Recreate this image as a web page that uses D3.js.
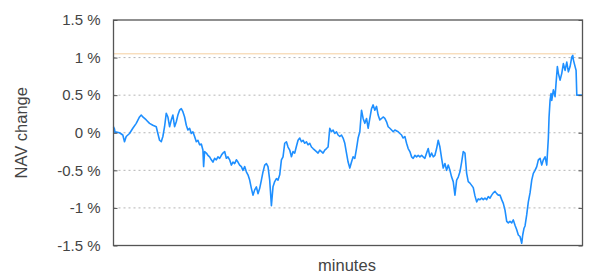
<!DOCTYPE html>
<html>
<head>
<meta charset="utf-8">
<script src="https://cdn.jsdelivr.net/npm/d3@7"></script>
<style>
  body { margin: 0; background: #fff; }
  svg text { font-family: "Liberation Sans", Arial, sans-serif; fill: #444; }
</style>
</head>
<body>
<div id="chart"></div>
<script>
// minutes since open, NAV change in percent
var minutes = [0, 1, 1.5, 2.7, 6, 9.3, 11, 12.7, 16, 19.3, 22.7, 26, 27.7, 29.3, 32.7, 36, 39.3, 42.7, 44.3, 46, 47.7, 49.3, 51, 52.7, 54.3, 56, 57.7, 59.3, 61, 62.7, 64.3, 66, 67.7, 69.3, 71, 72.7, 74.3, 76, 77.7, 79.3, 81, 82.7, 84.3, 86, 87.7, 89.3, 90, 91, 92.7, 94.3, 96, 97.7, 99.3, 101, 102.7, 104.3, 106, 107.7, 109.3, 111, 112.7, 114.3, 116, 117.7, 119.3, 121, 122.7, 124.3, 126, 127.7, 129.3, 131, 132.7, 134.3, 136, 137.7, 139.3, 141, 142.7, 144.3, 146, 147.7, 149.3, 151, 152.7, 154.3, 156, 157.7, 159.3, 161, 162.7, 164.3, 166, 167.7, 169.3, 171, 172.7, 174.3, 176, 177.7, 179.3, 181, 182.7, 184.3, 186, 187.7, 189.3, 191, 192.7, 194.3, 196, 197.7, 199.3, 201, 202.7, 204.3, 206, 207.7, 209.3, 211, 212.7, 214.3, 216, 217.7, 219.3, 221, 222.7, 224.3, 226, 227.7, 229.3, 231, 232.7, 234.3, 236, 237.7, 239.3, 241, 242.7, 244.3, 246, 247.7, 249.3, 251, 252.7, 254.3, 256, 257.7, 259.3, 261, 262.7, 264.3, 266, 267.7, 269.3, 271, 272.7, 274.3, 276, 277.7, 279.3, 281, 284.3, 286, 287.7, 289.3, 291, 292.7, 294.3, 296, 297.7, 299.3, 301, 302.7, 304.3, 306, 307.7, 309.3, 311, 312.7, 314.3, 316, 317.7, 319.3, 321, 322.7, 324.3, 326, 327.7, 329.3, 331, 332.7, 334.3, 336, 337.7, 339.3, 341, 342.7, 344.3, 346, 347.7, 349.3, 351, 352.7, 354.3, 356, 357.7, 359.3, 361, 362.7, 364.3, 366, 367.7, 369.3, 371, 372.7, 374.3, 376, 377.7, 379.3, 381, 382.7, 384.3, 386, 387.7, 389.3, 391, 392.7, 394.3, 396, 397.7, 399.3, 401, 402.7, 404.3, 406, 407.7, 408.7, 410, 411, 412.7, 414.3, 416, 417.7, 419.3, 421, 422.7, 424.3, 426, 427.7, 429.3, 431, 432.7, 434.3, 435, 436, 437, 437.7, 439.3, 441, 442, 443.3, 444.3, 446, 447.7, 449.3, 451, 452.7, 454.3, 456, 457.7, 458.7, 459.3, 461, 462, 462.7, 468.4];
var navChange = [0.08, 0.05, 0.00, 0.01, 0.00, -0.03, -0.12, -0.05, -0.01, 0.06, 0.125, 0.21, 0.235, 0.21, 0.17, 0.125, 0.10, 0.08, -0.01, -0.10, -0.12, -0.05, 0.08, 0.26, 0.21, 0.08, 0.17, 0.235, 0.08, 0.146, 0.235, 0.30, 0.32, 0.28, 0.21, 0.10, 0.036, 0.06, -0.01, 0.013, -0.05, -0.12, -0.10, -0.16, -0.15, -0.23, -0.45, -0.25, -0.27, -0.30, -0.32, -0.36, -0.39, -0.34, -0.36, -0.32, -0.34, -0.30, -0.27, -0.25, -0.34, -0.32, -0.36, -0.43, -0.39, -0.41, -0.36, -0.39, -0.43, -0.45, -0.50, -0.45, -0.52, -0.56, -0.63, -0.74, -0.83, -0.76, -0.72, -0.81, -0.74, -0.63, -0.52, -0.43, -0.41, -0.45, -0.63, -0.97, -0.72, -0.65, -0.61, -0.63, -0.56, -0.36, -0.32, -0.14, -0.12, -0.19, -0.23, -0.32, -0.25, -0.27, -0.18, -0.10, -0.07, -0.12, -0.10, -0.14, -0.12, -0.16, -0.14, -0.19, -0.21, -0.23, -0.25, -0.27, -0.23, -0.25, -0.27, -0.23, -0.21, -0.19, 0.06, 0.013, 0.036, -0.01, 0.013, -0.03, -0.05, -0.03, -0.07, -0.14, -0.27, -0.39, -0.47, -0.39, -0.32, -0.34, -0.21, -0.07, 0.013, 0.30, 0.19, 0.125, 0.19, 0.06, 0.19, 0.32, 0.37, 0.30, 0.35, 0.235, 0.17, 0.19, 0.21, 0.19, 0.146, 0.08, 0.06, 0.036, 0.013, 0.036, 0.013, -0.01, -0.03, -0.07, -0.05, -0.14, -0.21, -0.25, -0.32, -0.34, -0.30, -0.32, -0.30, -0.32, -0.30, -0.32, -0.34, -0.27, -0.21, -0.32, -0.27, -0.32, -0.30, -0.21, -0.10, -0.19, -0.34, -0.47, -0.41, -0.50, -0.43, -0.50, -0.59, -0.65, -0.83, -0.63, -0.59, -0.52, -0.39, -0.25, -0.27, -0.54, -0.65, -0.67, -0.70, -0.73, -0.84, -0.92, -0.88, -0.89, -0.87, -0.89, -0.87, -0.89, -0.85, -0.87, -0.83, -0.80, -0.78, -0.81, -0.83, -0.83, -0.89, -0.94, -1.03, -1.18, -1.20, -1.18, -1.20, -1.16, -1.23, -1.29, -1.36, -1.38, -1.47, -1.36, -1.27, -1.24, -1.09, -0.92, -0.80, -0.63, -0.54, -0.50, -0.45, -0.36, -0.34, -0.43, -0.36, -0.32, -0.43, -0.07, 0.21, 0.43, 0.52, 0.43, 0.57, 0.48, 0.66, 0.88, 0.79, 0.70, 0.79, 0.92, 0.83, 0.94, 0.81, 0.88, 1.01, 1.03, 0.97, 0.88, 0.83, 0.50, 0.50];
var yTicks = [-1.5, -1, -0.5, 0, 0.5, 1, 1.5];
var gridTicks = [-1, -0.5, 0, 0.5, 1];
var highLine = 1.05; // session high marker
var highEnd = 462; // minute where the high marker stops

var data = minutes.map(function(m, i) { return { t: m, v: navChange[i] }; });

var margin = {top: 20, right: 10.5, bottom: 33.5, left: 113.5},
    width = 593 - margin.left - margin.right,
    height = 279 - margin.top - margin.bottom;

var x = d3.scaleLinear()
    .domain([0, d3.max(minutes)])
    .range([0, width]);

var y = d3.scaleLinear()
    .domain([-1.5, 1.5])
    .range([height, 0]);

var svg = d3.select("#chart").append("svg")
    .attr("width", 593)
    .attr("height", 279)
  .append("g")
    .attr("transform", "translate(" + margin.left + "," + margin.top + ")");

// dotted grid
svg.selectAll(".grid")
    .data(gridTicks)
  .enter().append("line")
    .attr("class", "grid")
    .attr("x1", 0)
    .attr("x2", width)
    .attr("y1", function(d) { return y(d); })
    .attr("y2", function(d) { return y(d); })
    .style("stroke", "#b5b5b5")
    .style("stroke-dasharray", "2,3");

// high marker
svg.append("line")
    .attr("x1", 0)
    .attr("x2", x(highEnd))
    .attr("y1", y(highLine))
    .attr("y2", y(highLine))
    .style("stroke", "#f5cf9f")
    .style("stroke-width", 1);

var line = d3.line()
    .x(function(d) { return x(d.t); })
    .y(function(d) { return y(d.v); });

svg.append("path")
    .datum(data)
    .attr("d", line)
    .style("fill", "none")
    .style("stroke", "#1e8fff")
    .style("stroke-width", 1.6)
    .style("stroke-linejoin", "round");

// axes, ticks pointing in
var yAxis = d3.axisLeft(y)
    .tickValues(yTicks)
    .tickSize(-4)
    .tickPadding(13)
    .tickFormat(function(d) { return d + " %"; });

var gy = svg.append("g").call(yAxis);
gy.select(".domain").remove();
gy.selectAll("line").style("stroke", "#555");
gy.selectAll("text").style("font-size", "15px").style("fill", "#444");

svg.append("g")
    .attr("transform", "translate(" + width + ",0)")
    .call(d3.axisRight(y).tickValues(yTicks).tickSize(-4).tickFormat(""))
    .call(function(g) { g.select(".domain").remove(); g.selectAll("line").style("stroke", "#555"); });

// frame
svg.append("rect")
    .attr("width", width)
    .attr("height", height)
    .style("fill", "none")
    .style("stroke", "#555")
    .style("stroke-width", 1.3);

svg.append("text")
    .attr("x", width / 2 - 1)
    .attr("y", height + 25)
    .attr("text-anchor", "middle")
    .style("font-size", "16.5px")
    .text("minutes");

svg.append("text")
    .attr("transform", "rotate(-90)")
    .attr("x", -height / 2)
    .attr("y", -margin.left + 27)
    .attr("text-anchor", "middle")
    .style("font-size", "16.5px")
    .text("NAV change");
</script>
</body>
</html>
